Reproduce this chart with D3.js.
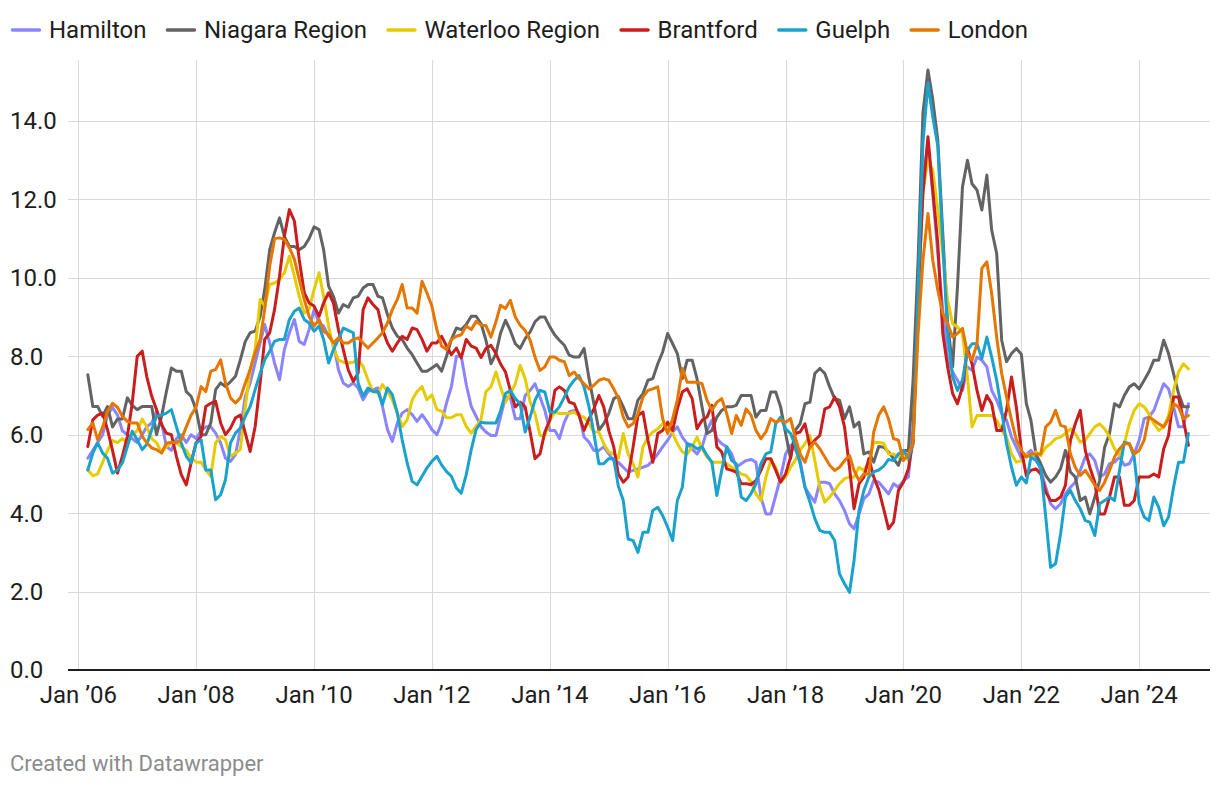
<!DOCTYPE html>
<html><head><meta charset="utf-8">
<script src="https://cdn.jsdelivr.net/npm/d3@7"></script>
<style>
body{margin:0;background:#fff;}
svg text{font-family:Roboto, "Noto Sans", sans-serif;}
</style></head><body>
<svg id="chart" width="1220" height="786"></svg>
<script>
const seriesNames = ["Hamilton","Niagara Region","Waterloo Region","Brantford","Guelph","London"];
const seriesColors = ["#8a84ff","#636363","#e6cb00","#c91d1e","#1aa2cc","#e57600"];
const firstYear = 2006, firstMonthIndex = 2; // March 2006

const hamilton = [
 5.4,5.6,5.8,6.0,6.5,6.7,6.5,6.1,6.0,5.9,
 5.8,6.0,6.2,6.3,6.6,6.3,5.7,5.6,5.9,6.0,5.8,6.0,
 5.9,6.1,6.2,6.2,6.04,5.79,5.4,5.32,5.49,6.13,6.98,7.32,
 7.83,8.34,8.81,8.34,7.83,7.4,8.17,8.6,8.94,8.38,8.3,8.68,
 9.19,8.85,8.77,8.51,8.34,7.66,7.32,7.23,7.32,7.19,6.89,7.1,
 7.15,7.19,6.72,6.13,5.83,6.3,6.55,6.64,6.51,6.34,6.51,6.34,
 6.13,6.0,6.3,6.81,7.23,8.0,8.0,7.28,6.72,6.47,6.2,6.07,
 5.98,5.98,6.45,6.96,6.96,6.41,6.41,7.0,7.13,7.3,6.96,6.62,
 6.11,6.11,5.9,6.32,6.58,6.62,6.54,5.94,5.81,5.6,5.6,5.69,
 5.51,5.34,5.3,5.17,5.05,5.09,5.13,5.17,5.22,5.34,5.51,5.69,
 5.86,6.07,6.2,5.94,5.77,5.64,5.51,5.69,6.11,6.37,5.9,5.77,
 5.69,5.51,5.17,5.26,5.34,5.37,5.3,4.41,3.98,3.98,4.45,4.92,
 5.51,5.73,5.64,5.34,4.66,4.45,4.28,4.79,4.79,4.75,4.49,4.32,
 4.07,3.73,3.6,3.98,4.37,4.49,4.83,4.79,4.64,4.49,4.75,4.66,
 4.83,4.92,6.2,9.17,12.49,13.43,12.15,10.62,9.17,7.9,7.6,7.39,
 7.13,7.73,7.64,7.98,7.9,7.73,7.13,6.88,6.54,6.37,5.94,5.68,
 5.4,5.5,5.6,5.43,5.09,4.66,4.24,4.11,4.24,4.49,4.66,4.79,
 5.09,5.43,5.51,5.34,4.92,5.0,5.26,5.3,5.43,5.22,5.26,5.51,
 5.86,6.41,6.45,6.62,6.96,7.3,7.17,6.71,6.2,6.2,6.79];

const niagara = [
 7.53,6.72,6.72,6.47,6.72,6.2,6.4,6.4,6.94,6.75,
 6.64,6.72,6.72,6.72,6.0,6.47,7.1,7.7,7.62,7.62,7.1,6.98,
 6.64,6.0,6.0,6.3,7.15,7.32,7.23,7.35,7.49,7.91,8.38,8.6,
 8.64,9.02,9.7,10.72,11.15,11.53,11.06,10.8,10.8,10.72,10.8,11.0,
 11.3,11.23,10.72,9.79,9.53,9.1,9.32,9.25,9.49,9.53,9.74,9.83,
 9.83,9.53,9.49,9.06,8.72,8.51,8.43,8.21,8.04,7.83,7.62,7.62,
 7.7,7.79,7.62,8.0,8.43,8.72,8.68,8.81,9.02,9.02,8.83,8.41,
 7.81,8.07,8.58,8.92,8.66,8.32,8.2,8.45,8.62,8.88,9.0,9.0,
 8.75,8.54,8.41,8.28,8.03,7.98,7.98,8.2,7.43,6.79,6.11,6.28,
 6.54,6.92,6.98,6.71,6.41,6.41,6.88,7.05,7.39,7.43,7.81,8.11,
 8.58,8.32,8.07,7.43,7.9,7.9,7.43,6.71,6.03,6.11,6.45,6.62,
 6.71,6.71,6.75,7.0,7.0,7.0,6.45,6.62,6.62,7.09,7.09,6.71,
 6.03,5.39,6.11,6.28,6.79,6.83,7.56,7.69,7.56,7.22,6.92,6.88,
 6.41,6.71,6.2,6.32,5.51,5.56,5.3,5.7,5.68,5.56,5.39,5.22,
 5.6,5.6,7.39,10.45,14.2,15.3,14.54,13.51,11.13,8.83,7.73,9.77,
 12.32,13.0,12.4,12.24,11.73,12.62,11.22,10.62,8.41,7.86,8.07,8.2,
 8.05,6.79,6.37,5.51,5.26,4.96,4.79,4.92,5.13,5.6,5.05,4.92,
 4.32,4.41,3.98,4.41,4.83,5.68,6.03,6.79,6.71,7.0,7.22,7.3,
 7.17,7.39,7.6,7.9,7.9,8.41,8.07,7.56,7.05,6.71,6.71];

const waterloo = [
 5.1,4.95,5.0,5.3,5.6,5.85,5.8,5.9,5.8,6.0,
 6.1,6.4,6.2,5.9,5.8,5.55,5.7,5.8,5.8,5.7,5.6,5.4,
 5.3,5.3,5.1,4.94,5.79,5.96,5.87,5.45,5.53,5.62,6.72,7.66,
 8.17,9.45,9.28,9.83,9.87,9.96,10.13,10.55,10.04,9.53,9.1,9.19,
 9.7,10.13,9.53,8.77,8.2,7.9,7.85,7.83,7.85,7.91,7.74,7.4,
 7.1,7.06,7.28,7.1,6.89,6.55,6.21,6.38,6.89,7.1,7.23,6.89,
 7.02,6.64,6.6,6.43,6.43,6.51,6.51,6.21,6.04,6.21,6.4,7.1,
 7.22,7.6,7.22,6.83,7.05,7.3,7.77,7.43,6.83,6.54,5.98,5.98,
 6.37,6.58,6.54,6.54,6.54,6.58,6.49,6.45,6.28,6.07,6.07,5.77,
 5.56,5.51,5.4,6.03,5.51,5.26,4.92,5.69,5.94,6.07,6.15,6.28,
 6.24,6.03,5.77,5.56,5.51,5.69,5.94,5.64,5.43,5.3,5.3,5.3,
 5.26,5.17,5.09,5.0,4.96,4.8,4.49,4.32,4.92,5.34,5.17,4.79,
 4.92,5.17,5.34,5.6,5.77,5.98,5.34,4.66,4.28,4.41,4.58,4.75,
 4.88,4.92,4.92,5.17,5.09,5.3,5.81,5.8,5.78,5.51,5.51,5.43,
 5.6,5.34,5.86,9.4,12.2,13.0,12.75,11.73,10.62,9.43,8.83,8.75,
 8.58,7.47,6.2,6.49,6.49,6.49,6.49,6.37,6.11,5.94,5.51,5.3,
 5.34,5.5,5.43,5.56,5.47,5.68,5.77,5.9,5.94,6.03,6.15,6.03,
 5.81,5.86,6.03,6.2,6.28,6.15,5.94,5.64,5.47,5.77,6.28,6.62,
 6.79,6.71,6.54,6.28,6.11,6.2,6.49,7.13,7.6,7.81,7.68];

const brantford = [
 5.7,6.38,6.5,6.55,6.13,5.6,5.02,5.45,5.96,6.8,
 8.0,8.13,7.49,6.98,6.64,6.26,6.04,6.0,5.45,4.98,4.72,5.28,
 5.79,5.96,6.72,6.8,6.85,6.3,6.0,6.17,6.43,6.5,6.04,5.57,
 6.21,7.32,8.43,8.6,9.19,10.04,11.06,11.74,11.45,10.47,9.62,9.36,
 9.28,9.02,9.36,9.62,9.36,8.68,8.17,7.65,7.36,7.57,9.19,9.49,
 9.32,9.19,8.68,8.34,8.13,8.34,8.51,8.43,8.72,8.68,8.43,8.13,
 8.34,8.34,8.51,8.26,8.04,8.21,7.96,8.43,8.26,8.21,7.97,8.2,
 8.28,8.07,7.81,7.6,7.13,6.71,6.83,6.71,6.07,5.39,5.51,6.07,
 6.37,7.13,7.22,7.13,6.83,6.79,6.49,6.11,6.41,6.66,7.0,6.71,
 6.11,5.69,5.0,4.79,4.92,5.69,6.49,6.58,5.86,5.3,6.03,6.11,
 6.32,6.11,6.66,7.09,7.17,6.92,6.15,6.37,6.45,6.75,5.69,5.56,
 5.13,5.09,5.05,4.75,4.75,4.73,4.83,5.09,5.39,5.39,5.09,4.79,
 5.0,5.43,6.03,6.07,6.28,5.69,5.86,5.98,6.66,6.71,6.96,6.71,
 6.2,5.17,4.11,4.75,4.92,5.39,4.92,4.6,4.1,3.6,3.77,4.58,
 4.79,5.13,5.86,9.6,12.15,13.6,12.24,10.88,8.58,7.73,7.05,6.79,
 7.22,8.2,7.81,7.13,6.62,7.0,6.79,6.11,6.11,6.62,7.47,6.7,
 5.6,4.95,5.09,5.13,5.0,4.54,4.32,4.32,4.41,4.71,5.86,6.28,
 6.62,5.6,5.17,4.79,3.98,3.98,4.41,4.92,4.92,4.2,4.2,4.32,
 4.92,4.92,4.92,5.0,4.92,5.64,5.98,6.96,6.96,6.37,5.73];

const guelph = [
 5.1,5.53,5.79,5.53,5.4,5.02,5.1,5.28,5.7,6.09,
 5.87,5.62,5.75,6.13,6.47,6.5,6.55,6.64,6.2,5.79,5.45,5.28,
 5.79,5.87,5.1,5.1,4.34,4.47,4.85,5.79,6.04,6.17,6.47,6.72,
 7.15,7.57,7.91,8.13,8.38,8.43,8.43,8.94,9.15,9.23,8.94,8.85,
 8.64,8.77,8.43,7.83,8.17,8.43,8.72,8.66,8.6,7.32,6.98,7.19,
 7.1,7.1,6.77,7.19,7.02,6.55,5.87,5.28,4.81,4.72,4.94,5.15,
 5.32,5.45,5.23,5.06,4.94,4.64,4.51,4.98,5.62,6.13,6.32,6.3,
 6.3,6.3,6.6,7.05,7.13,6.92,6.79,6.07,6.45,6.88,7.13,7.09,
 6.58,6.58,6.71,6.96,7.22,7.39,7.51,7.22,6.71,6.03,5.26,5.26,
 5.39,5.39,4.7,4.32,3.34,3.3,3.0,3.51,3.51,4.07,4.15,3.94,
 3.64,3.3,4.32,4.66,5.77,5.73,5.64,5.69,5.47,5.3,4.45,5.09,
 5.69,5.34,5.26,4.41,4.32,4.5,4.75,5.26,5.51,5.56,6.28,6.45,
 6.15,6.03,5.73,5.26,4.66,4.28,3.86,3.56,3.51,3.51,3.3,2.45,
 2.2,1.98,2.79,4.07,4.58,4.92,5.05,5.1,5.2,5.37,5.34,5.51,
 5.6,5.4,5.77,9.6,13.43,14.96,14.11,13.36,10.88,8.58,7.47,7.13,
 7.39,8.15,8.32,8.32,7.94,8.49,7.98,7.39,6.62,5.77,5.17,4.71,
 4.92,4.77,5.43,5.34,5.17,3.9,2.62,2.71,3.47,4.41,4.58,4.32,
 4.11,3.81,3.77,3.43,4.24,4.32,4.41,4.32,5.09,5.81,5.77,5.43,
 4.24,3.9,3.81,4.41,4.15,3.68,3.9,4.66,5.3,5.3,6.03];

const london = [
 6.13,6.3,5.87,6.2,6.6,6.8,6.7,6.47,6.34,6.3,
 6.3,5.96,5.8,5.66,5.62,5.53,5.79,5.8,5.8,5.87,6.2,6.5,
 6.7,7.23,7.1,7.62,7.66,7.91,7.32,6.94,6.81,6.94,7.32,7.66,
 8.09,8.43,9.19,10.3,11.0,11.02,10.98,10.77,10.47,9.96,9.45,9.02,
 8.77,8.94,8.64,8.55,8.34,8.47,8.34,8.34,8.43,8.47,8.34,8.21,
 8.34,8.47,8.6,8.85,9.19,9.45,9.83,9.23,9.23,9.1,9.91,9.62,
 9.28,8.68,8.26,8.17,8.43,8.51,8.55,8.77,8.68,8.89,8.8,8.78,
 8.49,8.88,9.3,9.22,9.43,9.0,8.79,8.66,8.41,7.98,7.64,7.73,
 7.98,7.98,7.9,7.86,7.51,7.6,7.43,7.3,7.17,7.26,7.39,7.43,
 7.39,7.17,6.94,6.45,6.2,6.28,6.54,6.96,7.13,7.17,7.22,6.41,
 6.03,6.41,6.88,7.69,7.34,7.34,7.34,7.3,6.88,6.62,6.83,6.92,
 6.54,6.03,6.49,6.24,6.66,6.5,6.11,5.9,6.07,6.41,6.32,6.37,
 6.32,6.41,5.94,5.51,5.3,5.69,5.81,5.64,5.43,5.22,5.09,5.17,
 5.34,5.47,5.09,4.83,5.0,5.0,6.07,6.5,6.71,6.4,5.9,5.86,
 5.34,5.51,5.77,8.58,10.45,11.64,10.45,9.69,9.09,8.83,8.49,8.58,
 8.71,8.07,7.9,8.32,10.24,10.41,9.6,8.49,7.56,6.96,6.37,5.86,
 5.6,5.43,5.51,5.51,5.51,6.2,6.32,6.62,6.24,6.2,5.51,5.17,
 4.96,5.09,4.92,4.71,4.58,4.79,5.09,5.43,5.64,5.77,5.77,5.51,
 5.6,5.86,6.45,6.37,6.28,6.2,6.41,6.79,6.71,6.41,6.49];

const yTickValues = [0,2,4,6,8,10,12,14];
const xTickYears = [2006,2008,2010,2012,2014,2016,2018,2020,2022,2024];
const footerText = "Created with Datawrapper";

const allSeries = [hamilton, niagara, waterloo, brantford, guelph, london];

const svg = d3.select("#chart");
const x = d3.scaleTime()
  .domain([new Date(2006,0,1), new Date(2024,10,1)])
  .range([78.3, 1188.4]);
const y = d3.scaleLinear().domain([0,14]).range([670,121]);
const gridLeft = 68, gridRight = 1210, gridTop = 60;
const textColor = "#1d1d1d";

const dateAt = i => new Date(firstYear, firstMonthIndex + i, 1);

// horizontal grid
svg.append("g").selectAll("line").data(yTickValues.filter(v=>v>0)).join("line")
  .attr("x1",gridLeft).attr("x2",gridRight)
  .attr("y1",d=>Math.round(y(d))+0.5).attr("y2",d=>Math.round(y(d))+0.5)
  .attr("stroke","#d9d9d9").attr("stroke-width",1);
// vertical grid
const tickDates = xTickYears.map(yr=>new Date(yr,0,1));
svg.append("g").selectAll("line").data(tickDates).join("line")
  .attr("x1",d=>Math.round(x(d))+0.5).attr("x2",d=>Math.round(x(d))+0.5)
  .attr("y1",gridTop).attr("y2",y(0))
  .attr("stroke","#d9d9d9").attr("stroke-width",1);

// y labels
svg.append("g").selectAll("text").data(yTickValues).join("text")
  .attr("x",10).attr("y",d=>y(d)).attr("dy","0.35em")
  .attr("font-size",24).attr("fill",textColor)
  .text(d=>d3.format(".1f")(d));

// x labels
svg.append("g").selectAll("text").data(tickDates).join("text")
  .attr("x",d=>x(d)).attr("y",695).attr("dy","0.35em")
  .attr("text-anchor","middle").attr("font-size",24).attr("fill",textColor)
  .text(d=>"Jan \u2019"+d3.timeFormat("%y")(d));

// lines
const line = d3.line().x((d,i)=>x(dateAt(i))).y(d=>y(d)).curve(d3.curveLinear);
svg.append("g").selectAll("path").data(allSeries).join("path")
  .attr("d",d=>line(d))
  .attr("fill","none")
  .attr("stroke",(d,i)=>seriesColors[i])
  .attr("stroke-width",3)
  .attr("stroke-linejoin","round").attr("stroke-linecap","round");

// baseline
svg.append("line").attr("x1",gridLeft).attr("x2",gridRight)
  .attr("y1",y(0)).attr("y2",y(0)).attr("stroke","#1d1d1d").attr("stroke-width",2);

// legend
const leg = svg.append("g");
let lx = 11;
seriesNames.forEach((name,i)=>{
  leg.append("line").attr("x1",lx+1.5).attr("x2",lx+28.5).attr("y1",30).attr("y2",30)
    .attr("stroke",seriesColors[i]).attr("stroke-width",3.5).attr("stroke-linecap","round");
  const t = leg.append("text").attr("x",lx+38).attr("y",30).attr("dy","0.35em")
    .attr("font-size",24).attr("fill",textColor).text(name);
  lx += 38 + t.node().getComputedTextLength() + 19.5;
});

// footer
svg.append("text").attr("x",10).attr("y",763).attr("dy","0.35em")
  .attr("font-size",22).attr("fill","#8c8c8c").text(footerText);
</script>
</body></html>
